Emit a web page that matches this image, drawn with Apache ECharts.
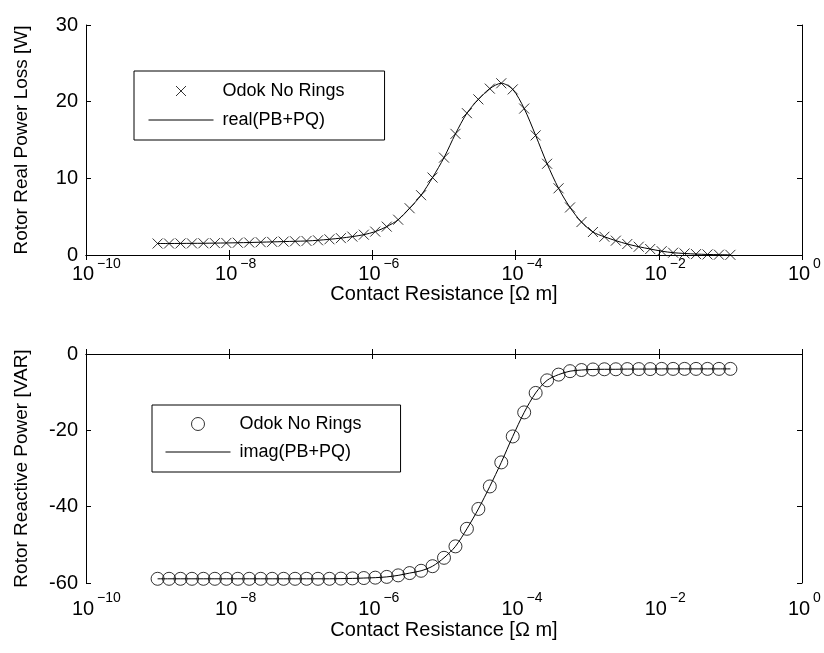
<!DOCTYPE html>
<html>
<head>
<meta charset="utf-8">
<script src="https://cdn.jsdelivr.net/npm/echarts@6/dist/echarts.min.js"></script>
<style>
  html, body { margin: 0; padding: 0; background: #ffffff; }
  #chart { width: 824px; height: 653px; }
</style>
</head>
<body>
<div id="chart"></div>
<script>
// contact resistance sample points, as powers of ten
const xExp = [-9.00, -8.84, -8.68, -8.52, -8.36, -8.20, -8.04, -7.88, -7.72, -7.56,
              -7.40, -7.24, -7.08, -6.92, -6.76, -6.60, -6.44, -6.28, -6.12, -5.96,
              -5.80, -5.64, -5.48, -5.32, -5.16, -5.00, -4.84, -4.68, -4.52, -4.36,
              -4.20, -4.04, -3.88, -3.72, -3.56, -3.40, -3.24, -3.08, -2.92, -2.76,
              -2.60, -2.44, -2.28, -2.12, -1.96, -1.80, -1.64, -1.48, -1.32, -1.16,
              -1.00];

// rotor real power loss [W]
const realLoss = [1.50, 1.50, 1.51, 1.52, 1.53, 1.55, 1.57, 1.60, 1.63, 1.67,
                  1.71, 1.75, 1.79, 1.83, 1.92, 2.05, 2.20, 2.40, 2.65, 3.05,
                  3.70, 4.60, 6.10, 7.80, 10.1, 12.7, 15.8, 18.5, 20.3, 21.7,
                  22.4, 21.6, 19.1, 15.6, 11.9, 8.70, 6.20, 4.30, 3.00, 2.38,
                  1.87, 1.43, 1.08, 0.78, 0.50, 0.30, 0.20, 0.12, 0.07, 0.04,
                  0.02];

// rotor reactive power [VAR]
const reactivePower = [-58.9, -58.9, -58.9, -58.9, -58.9, -58.9, -58.9, -58.9, -58.9, -58.9,
                       -58.9, -58.9, -58.9, -58.9, -58.9, -58.9, -58.85, -58.8, -58.7, -58.6,
                       -58.4, -58.0, -57.4, -56.8, -55.6, -53.4, -50.4, -45.8, -40.6, -34.7,
                       -28.4, -21.6, -15.3, -10.2, -6.9, -5.4, -4.5, -4.2, -4.05, -4.0,
                       -4.0, -3.95, -3.95, -3.95, -3.9, -3.9, -3.9, -3.9, -3.9, -3.9,
                       -3.9];

const xValues = xExp.map(e => Math.pow(10, e));
const realPts = xValues.map((x, i) => [x, realLoss[i]]);
const imagPts = xValues.map((x, i) => [x, reactivePower[i]]);

const font = 'Liberation Sans, Arial, sans-serif';
const chart = echarts.init(document.getElementById('chart'));

function expOf(v) {
    const e = Math.round(Math.log10(v));
    return e < 0 ? '\u2212' + (-e) : String(e);
}

// main bottom axis: line, ticks, "10" labels and the name
function bottomX(gridIndex, margin, nameGap) {
    return {
        type: 'log', gridIndex: gridIndex, position: 'bottom', min: 1e-10, max: 1, interval: 2,
        name: 'Contact Resistance [\u03a9 m]', nameLocation: 'middle', nameGap: nameGap,
        nameTextStyle: { fontSize: 20, fontFamily: font, color: '#000' },
        axisLine: { lineStyle: { color: '#000', width: 1 } },
        axisTick: { inside: true, length: 5, lineStyle: { color: '#000' } },
        minorTick: { show: false },
        splitLine: { show: false },
        axisLabel: {
            color: '#000', fontSize: 20, fontFamily: font, margin: margin,
            padding: [0, 6, 0, 0],
            formatter: () => '10'
        }
    };
}

// second bottom axis that only carries the exponents
function expX(gridIndex, margin) {
    return {
        type: 'log', gridIndex: gridIndex, position: 'bottom', min: 1e-10, max: 1, interval: 2,
        axisLine: { show: false },
        axisTick: { show: false },
        splitLine: { show: false },
        axisLabel: {
            color: '#000', fontSize: 14, fontFamily: font, margin: margin,
            align: 'left', padding: [0, 0, 0, 11],
            formatter: expOf
        }
    };
}

function topX(gridIndex) {
    return {
        type: 'log', gridIndex: gridIndex, position: 'top', min: 1e-10, max: 1, interval: 2,
        axisLine: { lineStyle: { color: '#000', width: 1 } },
        axisTick: { inside: true, length: 5, lineStyle: { color: '#000' } },
        splitLine: { show: false },
        axisLabel: { show: false }
    };
}

function leftY(gridIndex, min, max, interval, name) {
    return {
        type: 'value', gridIndex: gridIndex, position: 'left', min: min, max: max, interval: interval,
        name: name, nameLocation: 'middle', nameGap: 55,
        nameTextStyle: { fontSize: 19, fontFamily: font, color: '#000' },
        axisLine: { show: true, lineStyle: { color: '#000', width: 1 } },
        axisTick: { show: true, inside: true, length: 5, lineStyle: { color: '#000' } },
        splitLine: { show: false },
        axisLabel: { color: '#000', fontSize: 20, fontFamily: font, margin: 8 }
    };
}

function rightY(gridIndex, min, max, interval) {
    return {
        type: 'value', gridIndex: gridIndex, position: 'right', min: min, max: max, interval: interval,
        axisLine: { show: true, lineStyle: { color: '#000', width: 1 } },
        axisTick: { show: true, inside: true, length: 5, lineStyle: { color: '#000' } },
        splitLine: { show: false },
        axisLabel: { show: false }
    };
}

function legendBox(top, left, padding, gap, markerName, lineName, iconH) {
    return {
        orient: 'vertical', left: left, top: top,
        data: [
            { name: markerName },
            {
                name: lineName,
                itemStyle: { color: 'rgba(0,0,0,0)', borderWidth: 0, opacity: 0 },
                lineStyle: { width: 1, color: '#000' }
            }
        ],
        padding: padding,
        itemGap: gap,
        itemWidth: 65, itemHeight: iconH,
        borderColor: '#000', borderWidth: 1,
        backgroundColor: '#fff',
        selectedMode: false,
        itemStyle: { borderWidth: 1 },
        textStyle: { fontSize: 18, fontFamily: font, color: '#000', lineHeight: 18, padding: [0, 0, 0, 4] }
    };
}

const option = {
    backgroundColor: '#fff',
    animation: false,
    grid: [
        { left: 86, top: 25, width: 716, height: 230 },
        { left: 86, top: 354, width: 716, height: 229 }
    ],
    xAxis: [
        bottomX(0, 9, 20), topX(0), expX(0, 2),
        bottomX(1, 16, 37), topX(1), expX(1, 8)
    ],
    yAxis: [
        leftY(0, 0, 30, 10, 'Rotor Real Power Loss [W]'),
        rightY(0, 0, 30, 10),
        leftY(1, -60, 0, 20, 'Rotor Reactive Power [VAR]'),
        rightY(1, -60, 0, 20)
    ],
    legend: [
        legendBox(71, 134, [11, 40, 11, 14], 11, 'Odok No Rings', 'real(PB+PQ)', 10),
        legendBox(405, 152, [10, 34, 11, 13], 10, 'Odok No Rings ', 'imag(PB+PQ)', 13)
    ],
    series: [
        {
            name: 'real(PB+PQ)', type: 'line', xAxisIndex: 0, yAxisIndex: 0,
            data: realPts, symbol: 'none', smooth: 0.3,
            lineStyle: { color: '#000', width: 1 }, itemStyle: { color: '#000' }
        },
        {
            name: 'Odok No Rings', type: 'scatter', xAxisIndex: 0, yAxisIndex: 0,
            data: realPts, symbol: 'path://M0,0L10,10M10,0L0,10', symbolSize: 10, symbolKeepAspect: true,
            itemStyle: { color: 'rgba(0,0,0,0)', borderColor: '#000', borderWidth: 1 }, z: 3
        },
        {
            name: 'imag(PB+PQ)', type: 'line', xAxisIndex: 3, yAxisIndex: 2,
            data: imagPts, symbol: 'none', smooth: 0.3,
            lineStyle: { color: '#000', width: 1 }, itemStyle: { color: '#000' }
        },
        {
            name: 'Odok No Rings ', type: 'scatter', xAxisIndex: 3, yAxisIndex: 2,
            data: imagPts, symbol: 'circle', symbolSize: 13,
            itemStyle: { color: 'rgba(0,0,0,0)', borderColor: '#000', borderWidth: 1 }, z: 3
        }
    ]
};

chart.setOption(option);
</script>
</body>
</html>
